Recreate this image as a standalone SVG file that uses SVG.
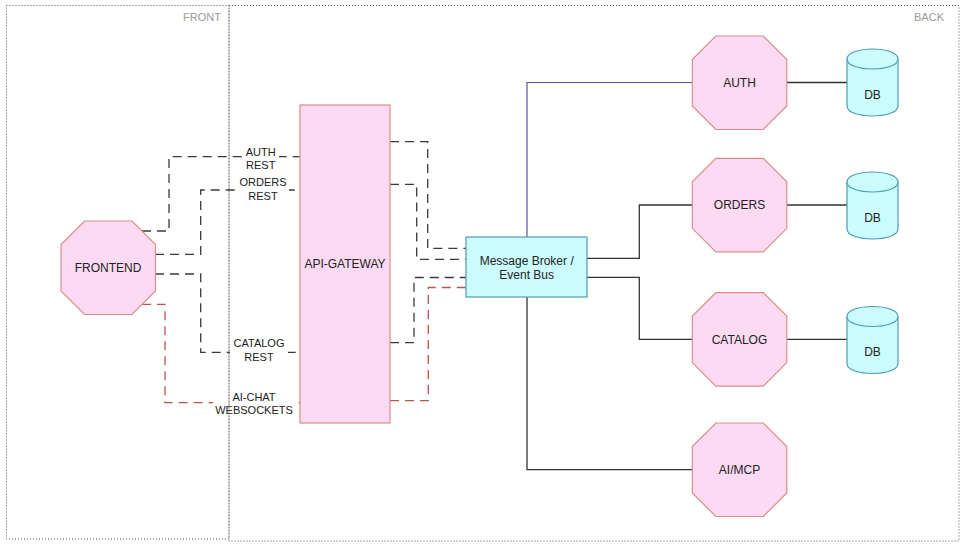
<svg xmlns="http://www.w3.org/2000/svg" xmlns:xlink="http://www.w3.org/1999/xlink" width="980" height="544" viewBox="0 0 980 544">
  <style>
    text { font-family: "Liberation Sans", Arial, sans-serif; fill: #222; }
    .node { font-size: 12px; text-anchor: middle; }
    .elabel { font-size: 11px; text-anchor: middle; }
    .zone { font-size: 11px; text-anchor: end; fill: #9a9a9a; }
    .svc { fill: #fcdaf3; stroke: #dc8e86; stroke-width: 1.2; }
    .store { fill: #cbfcff; stroke: #4e9db3; stroke-width: 1.2; }
    .frame { fill: none; stroke: #555; stroke-width: 1; stroke-dasharray: 1 2; }
    .link { fill: none; stroke: #333; stroke-width: 1.3; }
    .bus { fill: none; stroke: #5b4f9e; stroke-width: 1.2; }
    .rest { fill: none; stroke: #3a3a3a; stroke-width: 1.3; stroke-dasharray: 9 6; }
    .ws { fill: none; stroke: #b85450; stroke-width: 1.3; stroke-dasharray: 9 6; }
    .lbg { fill: #fff; }
  </style>
  <defs>
    <path id="oct" d="M23.5,0 H71 L94.5,23.5 V70 L71,93.5 H23.5 L0,70 V23.5 Z"/>
  </defs>

  <rect width="980" height="544" fill="#fff"/>

  <!-- connectors -->
  <g id="connectors">
    <!-- frontend to gateway -->
    <path class="rest" d="M142,231 H169 V156.7 H300"/>
    <path class="rest" d="M155,254.3 H200.7 V190 H300"/>
    <path class="rest" d="M155,274 H200.7 V352.3 H300"/>
    <path class="ws" d="M142,304.3 H165 V402.7 H300"/>
    <!-- gateway to broker -->
    <path class="rest" d="M390,141.7 H427.7 V248.3 H466"/>
    <path class="rest" d="M390,184.3 H416.7 V259.3 H466"/>
    <path class="rest" d="M390,342.7 H414 V277.5 H466"/>
    <path class="ws" d="M390,400.7 H428.3 V287.5 H466"/>
    <!-- broker to services -->
    <path class="bus" d="M527,237 V82.5 H692.3"/>
    <path class="link" d="M587,258.3 H639.3 V205 H692.3"/>
    <path class="link" d="M587,277.3 H639.3 V339.3 H692.3"/>
    <path class="link" d="M527,297.3 V469.7 H692.3"/>
    <!-- services to databases -->
    <path class="link" d="M786.8,82.5 H847"/>
    <path class="link" d="M786.8,205 H847"/>
    <path class="link" d="M786.8,339.3 H847"/>

    <!-- edge labels -->
    <rect class="lbg" x="243" y="145" width="36" height="28"/>
    <text class="elabel" x="260.7" y="155.7">AUTH</text>
    <text class="elabel" x="260.7" y="169">REST</text>
    <rect class="lbg" x="237" y="176" width="52" height="28"/>
    <text class="elabel" x="263" y="186.3">ORDERS</text>
    <text class="elabel" x="263" y="200">REST</text>
    <rect class="lbg" x="230" y="337" width="58" height="28"/>
    <text class="elabel" x="259" y="347.3">CATALOG</text>
    <text class="elabel" x="259" y="361.3">REST</text>
    <rect class="lbg" x="213" y="390" width="82" height="28"/>
    <text class="elabel" x="254" y="400.7">AI-CHAT</text>
    <text class="elabel" x="254" y="414">WEBSOCKETS</text>
  </g>

  <!-- nodes -->
  <g id="frontend">
    <use href="#oct" class="svc" x="61" y="221"/>
    <text class="node" x="108" y="272">FRONTEND</text>
  </g>
  <g id="api-gateway">
    <rect class="svc" x="300" y="105" width="90" height="318"/>
    <text class="node" x="345" y="268">API-GATEWAY</text>
  </g>
  <g id="broker">
    <rect class="store" x="466" y="237" width="121" height="60"/>
    <text class="node" x="526.7" y="265">Message Broker /</text>
    <text class="node" x="526.7" y="279.3">Event Bus</text>
  </g>
  <g id="auth">
    <use href="#oct" class="svc" x="692.3" y="36"/>
    <text class="node" x="739.5" y="87">AUTH</text>
  </g>
  <g id="orders">
    <use href="#oct" class="svc" x="692.3" y="158.3"/>
    <text class="node" x="739.5" y="209.3">ORDERS</text>
  </g>
  <g id="catalog">
    <use href="#oct" class="svc" x="692.3" y="292.6"/>
    <text class="node" x="739.5" y="343.6">CATALOG</text>
  </g>
  <g id="ai-mcp">
    <use href="#oct" class="svc" x="692.3" y="423"/>
    <text class="node" x="739.5" y="474.3">AI/MCP</text>
  </g>
  <g id="auth-db">
    <path class="store" d="M847,59 C847,45.67 898,45.67 898,59 L898,106 C898,119.33 847,119.33 847,106 Z"/>
    <path class="store" fill="none" d="M847,59 C847,72.33 898,72.33 898,59"/>
    <text class="node" x="872.5" y="98.6">DB</text>
  </g>
  <g id="orders-db">
    <path class="store" d="M847,182 C847,168.67 898,168.67 898,182 L898,229 C898,242.33 847,242.33 847,229 Z"/>
    <path class="store" d="M847,182 C847,195.33 898,195.33 898,182"/>
    <text class="node" x="872.5" y="221.6">DB</text>
  </g>
  <g id="catalog-db">
    <path class="store" d="M847,316.5 C847,303.17 898,303.17 898,316.5 L898,363.5 C898,376.83 847,376.83 847,363.5 Z"/>
    <path class="store" d="M847,316.5 C847,329.83 898,329.83 898,316.5"/>
    <text class="node" x="872.5" y="356">DB</text>
  </g>

  <!-- zone frames -->
  <g id="front-zone">
    <rect class="frame" x="6.5" y="5.5" width="222.5" height="533.5"/>
    <text class="zone" x="221" y="21">FRONT</text>
  </g>
  <g id="back-zone">
    <rect class="frame" x="229" y="5.5" width="730" height="535.5"/>
    <text class="zone" x="944" y="21">BACK</text>
  </g>
</svg>
